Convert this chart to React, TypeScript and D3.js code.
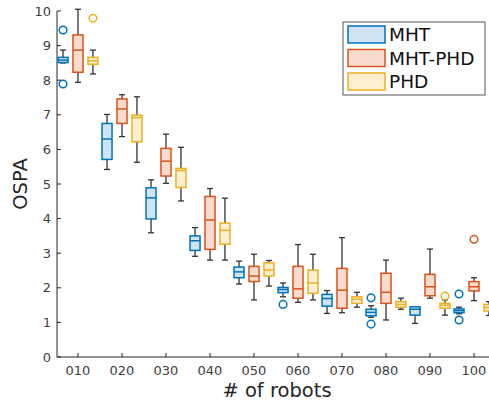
import React from "react";
import * as d3 from "d3";

const groups = ["010", "020", "030", "040", "050", "060", "070", "080", "090", "100"];
const seriesNames = ["MHT", "MHT-PHD", "PHD"];
const yTicks = [0, 1, 2, 3, 4, 5, 6, 7, 8, 9, 10];

// MHT
const mhtLo = [8.5, 5.42, 3.59, 2.91, 2.11, 1.74, 1.26, 1.15, 0.97, 1.25];
const mhtQ1 = [8.51, 5.71, 3.99, 3.08, 2.29, 1.86, 1.47, 1.19, 1.21, 1.28];
const mhtMed = [8.58, 6.3, 4.6, 3.36, 2.46, 1.95, 1.69, 1.29, 1.38, 1.34];
const mhtQ3 = [8.66, 6.75, 4.89, 3.5, 2.6, 2.01, 1.81, 1.38, 1.45, 1.39];
const mhtHi = [8.87, 7.01, 5.12, 3.74, 2.77, 2.14, 1.92, 1.48, 1.45, 1.44];
const mhtOut = [[9.45, 7.89], [], [], [], [], [1.52], [], [1.71, 0.95], [], [1.82, 1.07]];

// MHT-PHD
const mpLo = [7.94, 6.37, 5.02, 2.8, 1.65, 1.58, 1.28, 1.07, 1.7, 1.63];
const mpQ1 = [8.23, 6.75, 5.23, 3.11, 2.18, 1.7, 1.41, 1.55, 1.77, 1.91];
const mpMed = [8.87, 7.17, 5.66, 3.96, 2.34, 1.97, 1.93, 1.87, 2.03, 2.03];
const mpQ3 = [9.31, 7.46, 6.03, 4.64, 2.62, 2.62, 2.56, 2.42, 2.39, 2.18];
const mpHi = [10.05, 7.58, 6.44, 4.87, 2.97, 3.25, 3.45, 2.8, 3.12, 2.29];
const mpOut = [[], [], [], [], [], [], [], [], [], [3.4]];

// PHD
const phdLo = [8.18, 5.63, 4.51, 2.8, 2.05, 1.65, 1.44, 1.38, 1.21, 1.2];
const phdQ1 = [8.46, 6.22, 4.9, 3.26, 2.34, 1.84, 1.55, 1.44, 1.41, 1.33];
const phdMed = [8.56, 6.92, 5.39, 3.66, 2.51, 2.14, 1.67, 1.52, 1.5, 1.43];
const phdQ3 = [8.66, 6.99, 5.45, 3.87, 2.72, 2.51, 1.74, 1.6, 1.55, 1.52];
const phdHi = [8.87, 7.52, 6.06, 4.59, 2.79, 2.97, 1.87, 1.7, 1.65, 1.6];
const phdOut = [[9.79], [], [], [], [], [], [], [], [1.76], []];

const colors = ["#0072BD", "#D95319", "#EDB120"];
const fills = ["#cfe3f2", "#f7dbcf", "#fcefd2"];

const seriesData = [
  { lo: mhtLo, q1: mhtQ1, med: mhtMed, q3: mhtQ3, hi: mhtHi, out: mhtOut },
  { lo: mpLo, q1: mpQ1, med: mpMed, q3: mpQ3, hi: mpHi, out: mpOut },
  { lo: phdLo, q1: phdQ1, med: phdMed, q3: phdQ3, hi: phdHi, out: phdOut },
];

export default function App() {
  const W = 489, H = 403;
  const x = d3.scaleLinear().domain([0.5, 10.5]).range([56, 496]);
  const y = d3.scaleLinear().domain([0, 10]).range([357, 11]);
  const offsets = [-0.34, 0, 0.34];
  const bw = 10;
  const cap = 3;
  const axisColor = "#262626";
  const font = "DejaVu Sans, sans-serif";

  return (
    <svg width={W} height={H} style={{ position: "absolute", left: 0, top: 0, background: "#fff" }} fontFamily={font}>
      {/* axes */}
      <line x1={57} x2={57} y1={y(10)} y2={y(0)} stroke={axisColor} strokeWidth={1} />
      <line x1={57} x2={W} y1={y(0)} y2={y(0)} stroke={axisColor} strokeWidth={1} />
      {yTicks.map((t) => (
        <g key={"y" + t}>
          <line x1={57} x2={61} y1={y(t)} y2={y(t)} stroke={axisColor} />
          <text x={51} y={y(t)} dy="0.35em" textAnchor="end" fontSize={13} fill="#404040">{t}</text>
        </g>
      ))}
      {groups.map((g, i) => (
        <g key={"x" + g}>
          <line x1={x(i + 1)} x2={x(i + 1)} y1={y(0)} y2={y(0) - 4} stroke={axisColor} />
          <text x={x(i + 1)} y={375} textAnchor="middle" fontSize={13} fill="#404040">{g}</text>
        </g>
      ))}
      <text x={277} y={397} textAnchor="middle" fontSize={19.5} fill={axisColor}># of robots</text>
      <text transform={`translate(27,184) rotate(-90)`} textAnchor="middle" fontSize={19.5} fill={axisColor}>OSPA</text>

      {/* boxes */}
      {seriesData.map((s, si) => (
        <g key={"s" + si}>
          {groups.map((g, i) => {
            const cx = x(i + 1 + offsets[si]);
            return (
              <g key={g}>
                <line x1={cx} x2={cx} y1={y(s.hi[i])} y2={y(s.q3[i])} stroke="#333" strokeWidth={1.3} />
                <line x1={cx} x2={cx} y1={y(s.q1[i])} y2={y(s.lo[i])} stroke="#333" strokeWidth={1.3} />
                <line x1={cx - cap} x2={cx + cap} y1={y(s.hi[i])} y2={y(s.hi[i])} stroke="#333" strokeWidth={1.3} />
                <line x1={cx - cap} x2={cx + cap} y1={y(s.lo[i])} y2={y(s.lo[i])} stroke="#333" strokeWidth={1.3} />
                <rect x={cx - bw / 2} y={y(s.q3[i])} width={bw} height={Math.max(1, y(s.q1[i]) - y(s.q3[i]))}
                  fill={fills[si]} stroke={colors[si]} strokeWidth={1.5} />
                <line x1={cx - bw / 2} x2={cx + bw / 2} y1={y(s.med[i])} y2={y(s.med[i])} stroke={colors[si]} strokeWidth={1.5} />
                {s.out[i].map((o, oi) => (
                  <circle key={oi} cx={cx} cy={y(o)} r={3.8} fill="none" stroke={colors[si]} strokeWidth={1.5} />
                ))}
              </g>
            );
          })}
        </g>
      ))}

      {/* legend */}
      <rect x={343} y={22} width={142} height={73} fill="#fff" stroke="#555" strokeWidth={1} />
      {seriesNames.map((n, i) => (
        <g key={n}>
          <rect x={348} y={26 + i * 23.5} width={37} height={17} fill={fills[i]} stroke={colors[i]} strokeWidth={1.5} />
          <text x={389} y={35 + i * 23.5} dy="0.35em" fontSize={18.5} fill="#111">{n}</text>
        </g>
      ))}
    </svg>
  );
}
